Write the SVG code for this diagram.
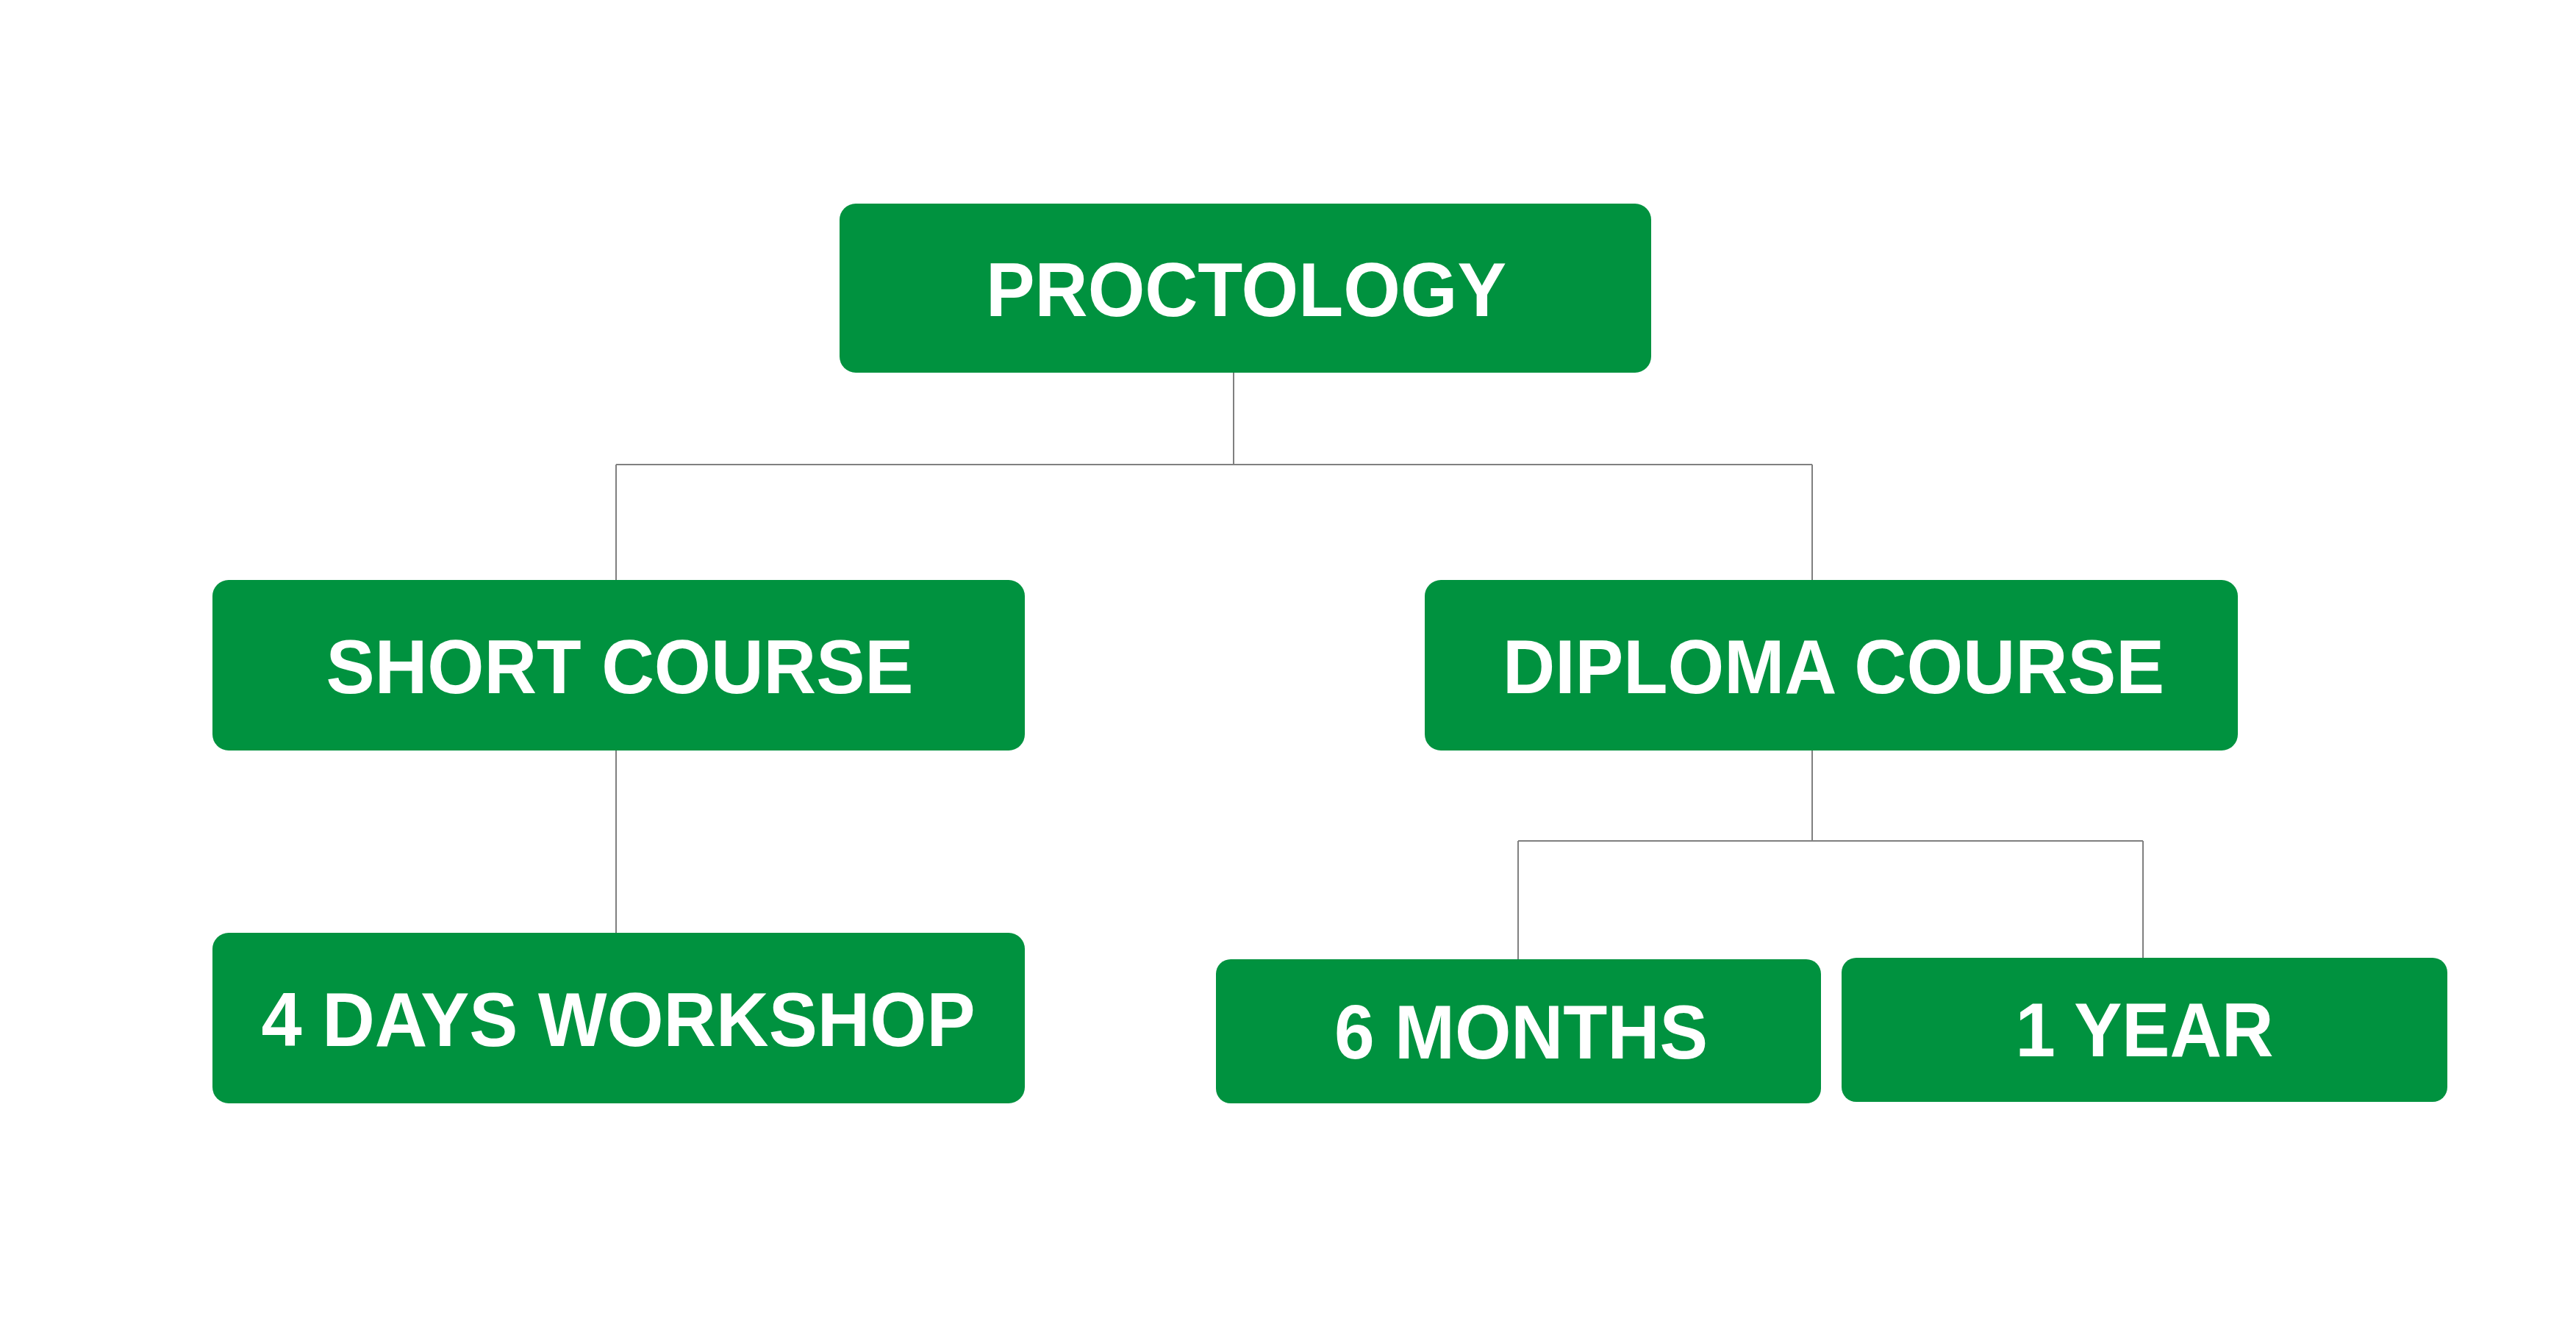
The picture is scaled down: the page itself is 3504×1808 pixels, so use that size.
<svg xmlns="http://www.w3.org/2000/svg" width="3504" height="1808" viewBox="0 0 3504 1808">
<style>
.box{fill:#00923F}
.lbl{font-family:"Liberation Sans",Arial,sans-serif;font-weight:bold;font-size:104px;fill:#FFFFFF;text-anchor:middle}
.conn{stroke:#808080;stroke-width:2;fill:none}
</style>
<rect width="3504" height="1808" fill="#FFFFFF"/>
<g id="connectors">
<path class="conn" d="M1678 507 V632 M838 632 H2465 M838 632 V789 M2465 632 V789"/>
<path class="conn" d="M838 1021 V1269"/>
<path class="conn" d="M2465 1021 V1144 M2065 1144 H2915 M2065 1144 V1305 M2915 1144 V1303"/>
</g>
<g id="proctology">
<rect class="box" x="1142" y="277" width="1104" height="230" rx="22"/>
<text class="lbl" x="1695" y="430" textLength="708" lengthAdjust="spacingAndGlyphs">PROCTOLOGY</text>
</g>
<g id="short-course">
<rect class="box" x="289" y="789" width="1105" height="232" rx="22"/>
<text class="lbl" x="843" y="943" textLength="799" lengthAdjust="spacingAndGlyphs">SHORT COURSE</text>
</g>
<g id="diploma-course">
<rect class="box" x="1938" y="789" width="1106" height="232" rx="22"/>
<text class="lbl" x="2494" y="943" textLength="900" lengthAdjust="spacingAndGlyphs">DIPLOMA COURSE</text>
</g>
<g id="four-days-workshop">
<rect class="box" x="289" y="1269" width="1105" height="232" rx="22"/>
<text class="lbl" x="841" y="1423" textLength="971" lengthAdjust="spacingAndGlyphs">4 DAYS WORKSHOP</text>
</g>
<g id="six-months">
<rect class="box" x="1654" y="1305" width="823" height="196" rx="20"/>
<text class="lbl" x="2069" y="1440" textLength="508" lengthAdjust="spacingAndGlyphs">6 MONTHS</text>
</g>
<g id="one-year">
<rect class="box" x="2505" y="1303" width="824" height="196" rx="20"/>
<text class="lbl" x="2917" y="1437" textLength="351" lengthAdjust="spacingAndGlyphs">1 YEAR</text>
</g>
</svg>
